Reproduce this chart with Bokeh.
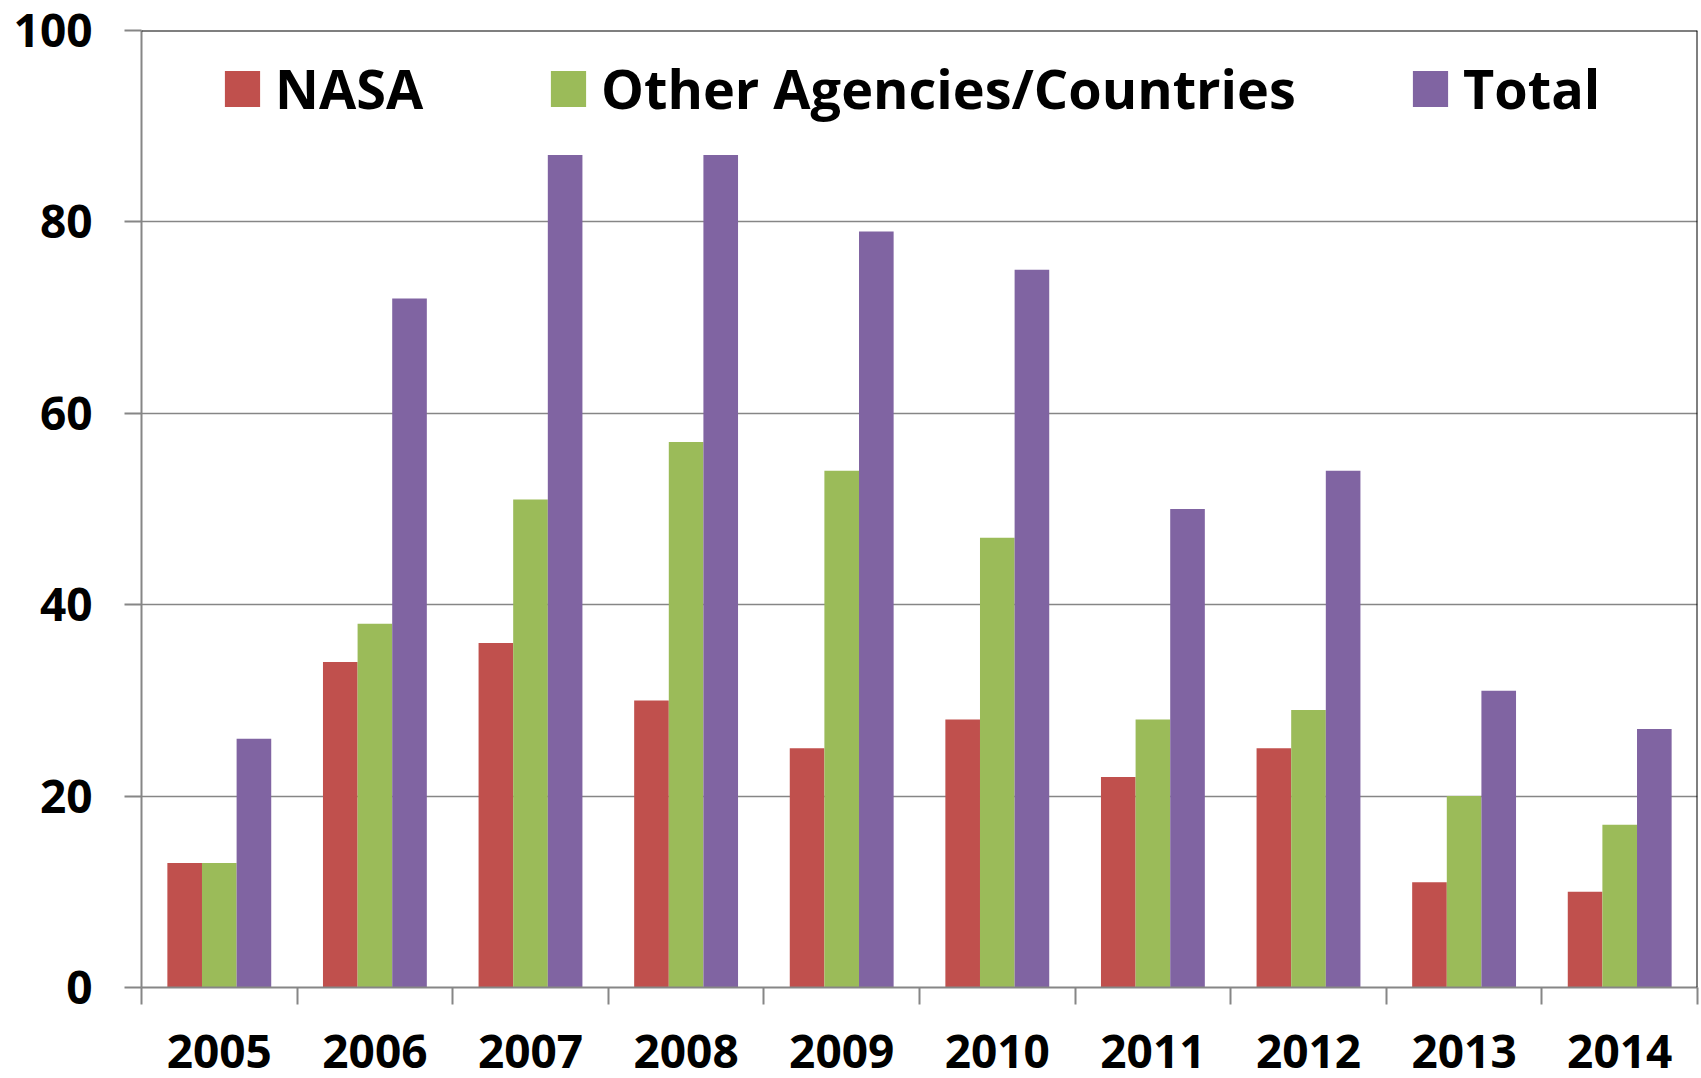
import numpy as np
from bokeh.plotting import figure
from bokeh.models import ColumnDataSource, FixedTicker, Legend, LegendItem, Span, Range1d
from bokeh.core.properties import value
from bokeh.embed import file_html
from bokeh.resources import INLINE

years = ["2005", "2006", "2007", "2008", "2009", "2010", "2011", "2012", "2013", "2014"]
nasa = [13, 34, 36, 30, 25, 28, 22, 25, 11, 10]
other = [13, 38, 51, 57, 54, 47, 28, 29, 20, 17]
total = [26, 72, 87, 87, 79, 75, 50, 54, 31, 27]
series_names = ["NASA", "Other Agencies/Countries", "Total"]
colors = ["#C0504D", "#9BBB59", "#8064A2"]
y_ticks = [0, 20, 40, 60, 80, 100]

FONT = "Open Sans"
AX = "#868686"
n = len(years)
idx = np.arange(n)
bar_w = 0.2225

p = figure(width=1701, height=1078, output_backend="svg", toolbar_location=None,
           x_range=Range1d(-0.5, n - 0.5), y_range=Range1d(0, 100),
           min_border_left=141, min_border_right=4, min_border_top=30, min_border_bottom=91)
p.outline_line_color = None
p.background_fill_color = "white"

src = ColumnDataSource(dict(x=idx, nasa=nasa, other=other, total=total))
renderers = []
for k, (col, c) in enumerate(zip(["nasa", "other", "total"], colors)):
    off = (k - 1) * bar_w
    r = p.vbar(x=idx + off, top=src.data[col], width=bar_w, bottom=0,
               fill_color=c, line_color=None)
    renderers.append(r)

# x axis
xa = p.xaxis[0]
xa.ticker = FixedTicker(ticks=list(idx), minor_ticks=list(np.arange(n + 1) - 0.5))
xa.major_label_overrides = {int(i): y for i, y in zip(idx, years)}
xa.major_tick_line_color = None
xa.major_tick_out = 17
xa.major_tick_in = 0
xa.minor_tick_out = 17
xa.minor_tick_in = 0
xa.minor_tick_line_color = AX
xa.minor_tick_line_width = 2
xa.axis_line_color = AX
xa.axis_line_width = 2
xa.major_label_text_font = FONT
xa.major_label_text_font_style = "bold"
xa.major_label_text_font_size = "46px"
xa.major_label_text_color = "black"
xa.major_label_standoff = 30

ya = p.yaxis[0]
ya.ticker = FixedTicker(ticks=y_ticks, minor_ticks=[])
ya.major_tick_out = 17
ya.major_tick_in = 0
ya.major_tick_line_color = AX
ya.major_tick_line_width = 2
ya.axis_line_color = AX
ya.axis_line_width = 2
ya.major_label_text_font = FONT
ya.major_label_text_font_style = "bold"
ya.major_label_text_font_size = "46px"
ya.major_label_text_color = "black"
ya.major_label_standoff = 32

p.xgrid.visible = False
p.ygrid.ticker = FixedTicker(ticks=y_ticks[1:-1])
p.ygrid.grid_line_color = AX
p.ygrid.grid_line_width = 1.5

p.add_layout(Span(location=100, dimension="width", line_color="black", line_width=2))
p.add_layout(Span(location=n - 0.5, dimension="height", line_color="black", line_width=2))

leg_x = [79, 405, 1267]
for r, name, lx in zip(renderers, series_names, leg_x):
    leg = Legend(items=[LegendItem(label=value(name), renderers=[r])], location=(lx, 862),
                 orientation="horizontal", glyph_width=44, glyph_height=45, label_standoff=11,
                 padding=0, margin=0, border_line_color=None, background_fill_alpha=0,
                 label_text_font=FONT, label_text_font_style="bold",
                 label_text_font_size="54px", label_text_color="black")
    p.add_layout(leg)

open("out.html", "w").write(file_html(p, INLINE))
